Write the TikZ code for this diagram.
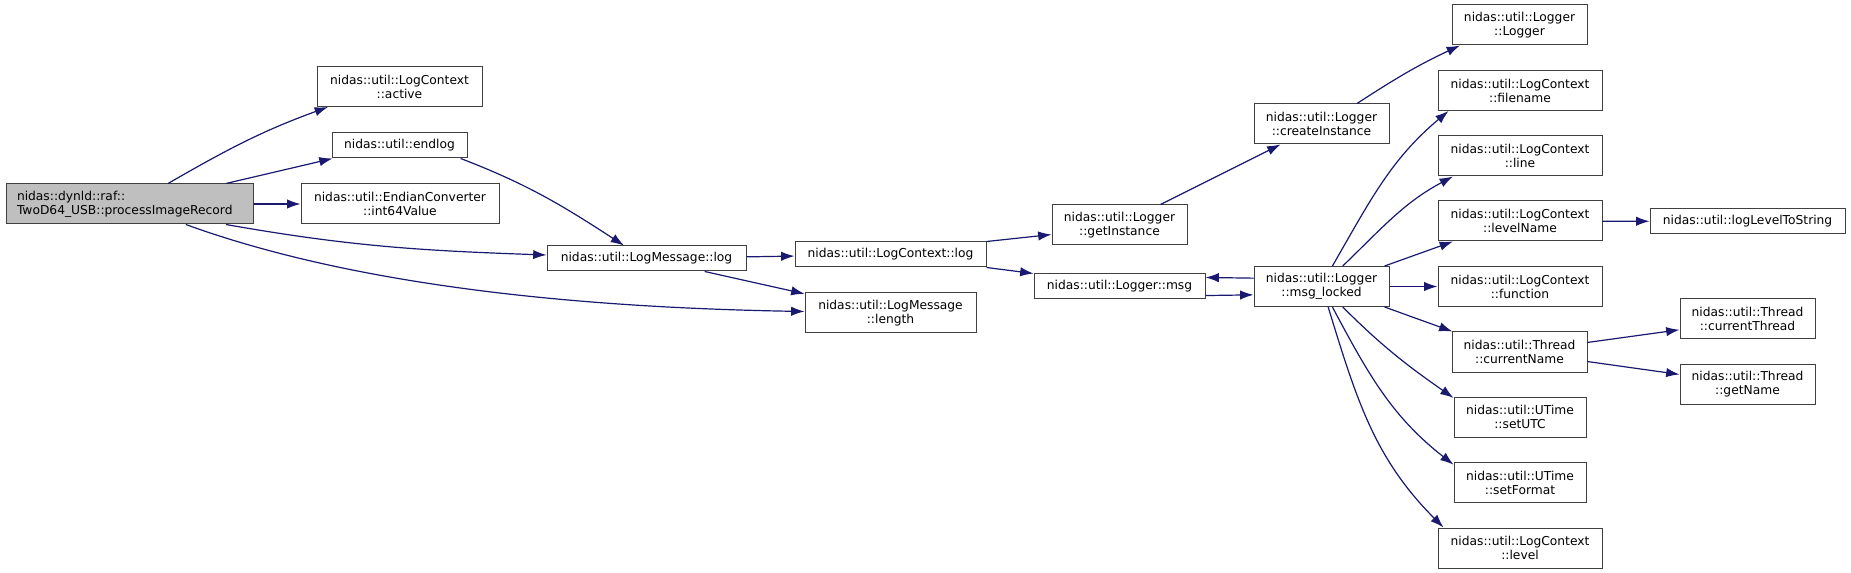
\documentclass[tikz,border=0pt]{standalone}
\usepackage{fontspec}
\setmainfont{DejaVu Sans}
\usepackage{tikz}
\usetikzlibrary{arrows.meta}
\definecolor{edgeblue}{HTML}{191970}

\begin{document}
\begin{tikzpicture}[
    x=0.75pt, y=-0.75pt, % one unit = one pixel of the call graph
    box/.style={
        draw=black!75,
        line width=0.75pt,
        rectangle,
        align=center,
        inner sep=0pt,
        font=\fontsize{9.2}{10.5}\selectfont
    },
    one/.style={box, minimum height=18.75pt},
    two/.style={box, minimum height=30pt},
    arrow/.style={
        -{Latex[length=10pt,width=7pt]},
        draw=edgeblue,
        line width=0.9pt
    }
]
    \useasboundingbox (0,0) rectangle (1851,573);

    % --- Caller ---
    \node[two, fill=black!25, align=left, text width=168.75pt, minimum width=185.25pt] (root) at (129.5,204) {nidas::dynld::raf::\\TwoD64\_USB::processImageRecord};

    % --- Direct callees ---
    \node[two, minimum width=123.75pt] (active) at (399.5,86.5) {nidas::util::LogContext\\::active};
    \node[one, minimum width=101.25pt] (endlog) at (399.5,145.5) {nidas::util::endlog};
    \node[two, minimum width=148.5pt]  (intval) at (400,204) {nidas::util::EndianConverter\\::int64Value};
    \node[one, minimum width=149.25pt] (msglog) at (646.5,258.5) {nidas::util::LogMessage::log};
    \node[one, minimum width=143.25pt] (ctxlog) at (890.5,254.5) {nidas::util::LogContext::log};
    \node[two, minimum width=128.25pt] (msglen) at (890.5,313) {nidas::util::LogMessage\\::length};

    % --- Logger ---
    \node[two, minimum width=101.25pt] (getinst) at (1119.5,225) {nidas::util::Logger\\::getInstance};
    \node[one, minimum width=128.25pt] (lmsg)    at (1119.5,286.5) {nidas::util::Logger::msg};
    \node[two, minimum width=101.25pt] (create)  at (1321.5,124) {nidas::util::Logger\\::createInstance};
    \node[two, minimum width=101.25pt] (locked)  at (1321.5,286.5) {nidas::util::Logger\\::msg\_locked};

    % --- Right column ---
    \node[two, minimum width=101.25pt] (logger)  at (1519.5,25) {nidas::util::Logger\\::Logger};
    \node[two, minimum width=123pt]    (fname)   at (1520,90.5) {nidas::util::LogContext\\::filename};
    \node[two, minimum width=123pt]    (ctxline) at (1520,156) {nidas::util::LogContext\\::line};
    \node[two, minimum width=123pt]    (lvlname) at (1520,221) {nidas::util::LogContext\\::levelName};
    \node[two, minimum width=123pt]    (func)    at (1520,286.5) {nidas::util::LogContext\\::function};
    \node[two, minimum width=101.25pt] (curname) at (1519.5,352) {nidas::util::Thread\\::currentName};
    \node[two, minimum width=99pt]     (utc)     at (1520,417) {nidas::util::UTime\\::setUTC};
    \node[two, minimum width=99pt]     (fmt)     at (1520,482.5) {nidas::util::UTime\\::setFormat};
    \node[two, minimum width=123pt]    (level)   at (1520,548) {nidas::util::LogContext\\::level};

    % --- Leaves ---
    \node[one, minimum width=146.25pt] (lvlstr)    at (1747.5,221.5) {nidas::util::logLevelToString};
    \node[two, minimum width=101.25pt] (curthread) at (1747.5,319) {nidas::util::Thread\\::currentThread};
    \node[two, minimum width=101.25pt] (getname)   at (1747.5,384) {nidas::util::Thread\\::getName};

    % --- Calls ---
    \draw[arrow] (root.28) to[out=30,in=200] (active.196);
    \draw[arrow] (root.12) -- (endlog.191);
    \draw[arrow] (root) -- (intval);
    \draw[arrow] (root.-12) to[out=-10,in=178] (msglog.178);
    \draw[arrow] (root.-20) to[out=-20,in=179,looseness=0.8] (msglen.179);
    \draw[arrow] (endlog.-12) to[out=-21,in=147] (msglog.150);
    \draw[arrow] (msglog) -- (ctxlog);
    \draw[arrow] (msglog) -- (msglen);
    \draw[arrow] (ctxlog.north east) -- (getinst.188);
    \draw[arrow] (ctxlog.south east) -- (lmsg.north west);
    \draw[arrow] (getinst) -- (create);
    \draw[arrow] (create.30) to[out=33,in=205] (logger.199);
    \draw[arrow] (lmsg.-6) -- (locked.187);
    \draw[arrow] (locked.173) -- (lmsg.6);
    \draw[arrow] (locked.62) to[out=60,in=220] (fname.196);
    \draw[arrow] (locked.44) to[out=44,in=208] (ctxline.197);
    \draw[arrow] (locked.18) -- (lvlname.197);
    \draw[arrow] (locked) -- (func);
    \draw[arrow] (locked.-18) -- (curname.163);
    \draw[arrow] (locked.-44) to[out=-45,in=145] (utc.164);
    \draw[arrow] (locked.-62) to[out=-62,in=142] (fmt.165);
    \draw[arrow] (locked.-72) to[out=-73,in=135] (level.165);
    \draw[arrow] (lvlname) -- (lvlstr);
    \draw[arrow] (curname.8) -- (curthread.189);
    \draw[arrow] (curname.-8) -- (getname.172);
\end{tikzpicture}
\end{document}
